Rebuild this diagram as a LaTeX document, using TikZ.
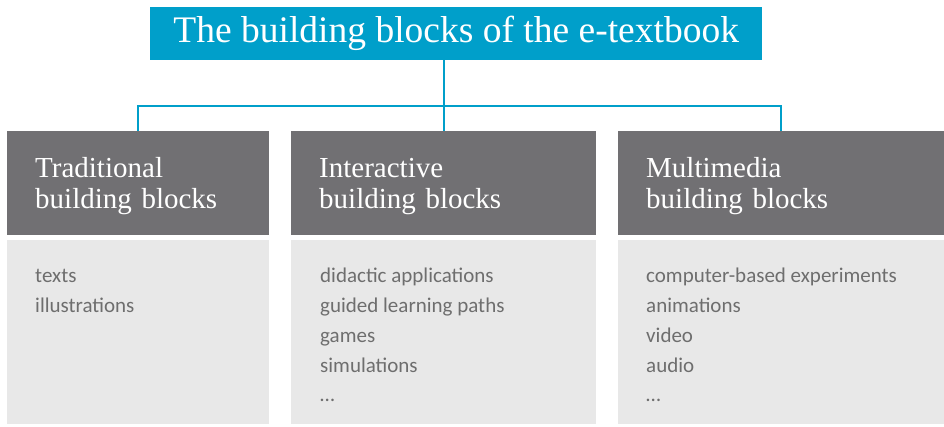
\documentclass[tikz,border=0pt]{standalone}
\usepackage{fontspec}
\setmainfont{Liberation Serif}
\newfontfamily\listfont{Carlito}
\usetikzlibrary{positioning}
\definecolor{titleblue}{HTML}{009FCA}
\definecolor{headgray}{HTML}{717073}
\definecolor{bodygray}{HTML}{E8E8E8}
\definecolor{listgray}{HTML}{6E6E6E}

\begin{document}
\begin{tikzpicture}[x=1pt,y=1pt,
  head/.style={rectangle,fill=headgray,text=white,anchor=north west,inner ysep=0pt,inner xsep=28pt,
    align=left,minimum height=104pt,font=\fontsize{29}{31}\selectfont,
    execute at begin node=\rule{0pt}{26pt}},
  body/.style={rectangle,fill=bodygray,anchor=north west,inner sep=0pt,minimum height=184pt},
  items/.style={anchor=north west,inner sep=0pt,align=left,text=listgray,
    font=\listfont\fontsize{21}{29.7}\selectfont},
  link/.style={draw=titleblue,line width=2pt}]
  \useasboundingbox (0,0) rectangle (944,426);

  \node (title) [rectangle,fill=titleblue,text=white,anchor=north west,inner sep=0pt,
    minimum width=612pt,minimum height=53pt,font=\fontsize{37.5}{40}\selectfont]
    at (150,419) {The building blocks of the e-textbook};

  \node (trad) [head,text width=206pt] at (7,295) {Traditional\\building blocks};
  \node (interact) [head,text width=249pt] at (291,295) {Interactive\\building blocks};
  \node (media) [head,text width=270pt] at (618,295) {Multimedia\\building blocks};

  \node (tradbody) [body,minimum width=262pt] at (7,186) {};
  \node (interactbody) [body,minimum width=305pt] at (291,186) {};
  \node (mediabody) [body,minimum width=326pt] at (618,186) {};

  \node (tradlist) [items] at ([shift={(28pt,-22pt)}]tradbody.north west)
    {\strut texts\\illustrations};
  \node (interactlist) [items] at ([shift={(29pt,-22pt)}]interactbody.north west)
    {\strut didactic applications\\guided learning paths\\games\\simulations\\\dots};
  \node (medialist) [items] at ([shift={(28pt,-22pt)}]mediabody.north west)
    {\strut computer-based experiments\\animations\\video\\audio\\\dots};

  \coordinate (hub) at (443,320);
  \draw [link] (title.south -| interact.north) -- (interact.north);
  \draw [link] (trad.north) -- (trad.north |- hub) -- (media.north |- hub) -- (media.north);
\end{tikzpicture}
\end{document}
